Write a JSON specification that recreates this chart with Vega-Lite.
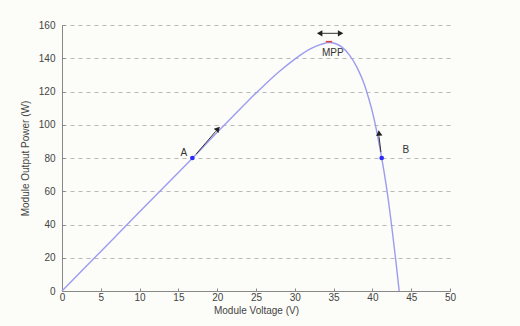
{
  "$schema": "https://vega.github.io/schema/vega-lite/v6.json",
  "autosize": "none",
  "width": 388,
  "height": 266,
  "padding": {"left": 62, "top": 25, "right": 70, "bottom": 35},
  "background": "#fcfcf8",
  "config": {
    "view": {"stroke": null},
    "font": "Liberation Sans",
    "axis": {"labelFont": "Liberation Sans", "titleFont": "Liberation Sans", "labelColor": "#444", "titleColor": "#444", "titleFontWeight": "normal", "labelFontSize": 10, "titleFontSize": 10, "domainColor": "#888", "tickColor": "#888", "labelOverlap": false, "labelFlush": false}
  },
  "datasets": {
    "curve": [
      {"V": 0, "P": 0}, {"V": 5, "P": 23.8}, {"V": 10, "P": 47.6}, {"V": 15, "P": 71.3},
      {"V": 17, "P": 80.8}, {"V": 20, "P": 95.5}, {"V": 22, "P": 105}, {"V": 24, "P": 114.5},
      {"V": 26, "P": 123.5}, {"V": 28, "P": 132}, {"V": 30, "P": 139.5}, {"V": 31, "P": 142.8},
      {"V": 32, "P": 145.6}, {"V": 33, "P": 147.8}, {"V": 34, "P": 149.2}, {"V": 34.5, "P": 149.5},
      {"V": 35, "P": 149.2}, {"V": 36, "P": 147}, {"V": 37, "P": 142.2}, {"V": 38, "P": 134.7},
      {"V": 39, "P": 123.7}, {"V": 39.5, "P": 116.2}, {"V": 40, "P": 107.7}, {"V": 40.5, "P": 97.3},
      {"V": 41, "P": 85.2}, {"V": 41.5, "P": 71.8}, {"V": 42, "P": 56.5}, {"V": 42.5, "P": 38.5},
      {"V": 43, "P": 19}, {"V": 43.45, "P": 0}
    ],
    "pts": [{"V": 16.8, "P": 80}, {"V": 41.2, "P": 80}],
    "labels": [
      {"V": 15.7, "P": 83, "t": "A"},
      {"V": 44.3, "P": 85, "t": "B"},
      {"V": 34.9, "P": 143, "t": "MPP"}
    ],
    "arrows": [
      {"V": 17.3, "P": 82.4, "V2": 19.8, "P2": 96},
      {"V": 41.1, "P": 83.5, "V2": 40.85, "P2": 93},
      {"V": 33.2, "P": 155, "V2": 35.9, "P2": 155}
    ]
  },
  "layer": [
    {
      "data": {"name": "curve"},
      "mark": {"type": "line", "color": "#9c9cf0", "strokeWidth": 1.4, "interpolate": "monotone"},
      "encoding": {
        "x": {"field": "V", "type": "quantitative", "scale": {"domain": [0, 50], "nice": false},
          "axis": {"values": [0, 5, 10, 15, 20, 25, 30, 35, 40, 45, 50], "tickCount": 11, "title": "Module Voltage (V)", "grid": false, "tickSize": -3, "labelPadding": 4, "titlePadding": 3}},
        "y": {"field": "P", "type": "quantitative", "scale": {"domain": [0, 160], "nice": false},
          "axis": {"values": [0, 20, 40, 60, 80, 100, 120, 140, 160], "tickCount": 9, "title": "Module Output Power (W)", "grid": true, "gridDash": [4, 4], "gridColor": "#b8b8b8", "tickSize": -3, "labelPadding": 10, "titlePadding": 8}}
      }
    },
    {
      "data": {"name": "arrows"},
      "mark": {"type": "rule", "color": "#333", "strokeWidth": 1},
      "encoding": {
        "x": {"field": "V", "type": "quantitative"},
        "y": {"field": "P", "type": "quantitative"},
        "x2": {"field": "V2"},
        "y2": {"field": "P2"}
      }
    },
    {
      "data": {"values": [{"V": 20.1, "P": 97.5}]},
      "mark": {"type": "point", "shape": "triangle-up", "filled": true, "color": "#222", "size": 40, "angle": 42, "opacity": 1},
      "encoding": {"x": {"field": "V", "type": "quantitative"}, "y": {"field": "P", "type": "quantitative"}}
    },
    {
      "data": {"values": [{"V": 40.85, "P": 95}]},
      "mark": {"type": "point", "shape": "triangle-up", "filled": true, "color": "#222", "size": 40, "angle": -6, "opacity": 1},
      "encoding": {"x": {"field": "V", "type": "quantitative"}, "y": {"field": "P", "type": "quantitative"}}
    },
    {
      "data": {"values": [{"V": 33.2, "P": 155}]},
      "mark": {"type": "point", "shape": "triangle-left", "filled": true, "color": "#222", "size": 40, "opacity": 1},
      "encoding": {"x": {"field": "V", "type": "quantitative"}, "y": {"field": "P", "type": "quantitative"}}
    },
    {
      "data": {"values": [{"V": 35.9, "P": 155}]},
      "mark": {"type": "point", "shape": "triangle-right", "filled": true, "color": "#222", "size": 40, "opacity": 1},
      "encoding": {"x": {"field": "V", "type": "quantitative"}, "y": {"field": "P", "type": "quantitative"}}
    },
    {
      "data": {"values": [{"V": 34.4, "P": 150}]},
      "mark": {"type": "point", "shape": "stroke", "color": "#e04040", "size": 40, "strokeWidth": 1.5, "opacity": 1},
      "encoding": {"x": {"field": "V", "type": "quantitative"}, "y": {"field": "P", "type": "quantitative"}}
    },
    {
      "data": {"name": "pts"},
      "mark": {"type": "point", "shape": "circle", "filled": true, "color": "#2a2aff", "size": 22, "opacity": 1},
      "encoding": {"x": {"field": "V", "type": "quantitative"}, "y": {"field": "P", "type": "quantitative"}}
    },
    {
      "data": {"name": "labels"},
      "mark": {"type": "text", "color": "#333", "fontSize": 10, "font": "Liberation Sans"},
      "encoding": {"x": {"field": "V", "type": "quantitative"}, "y": {"field": "P", "type": "quantitative"}, "text": {"field": "t"}}
    }
  ]
}
